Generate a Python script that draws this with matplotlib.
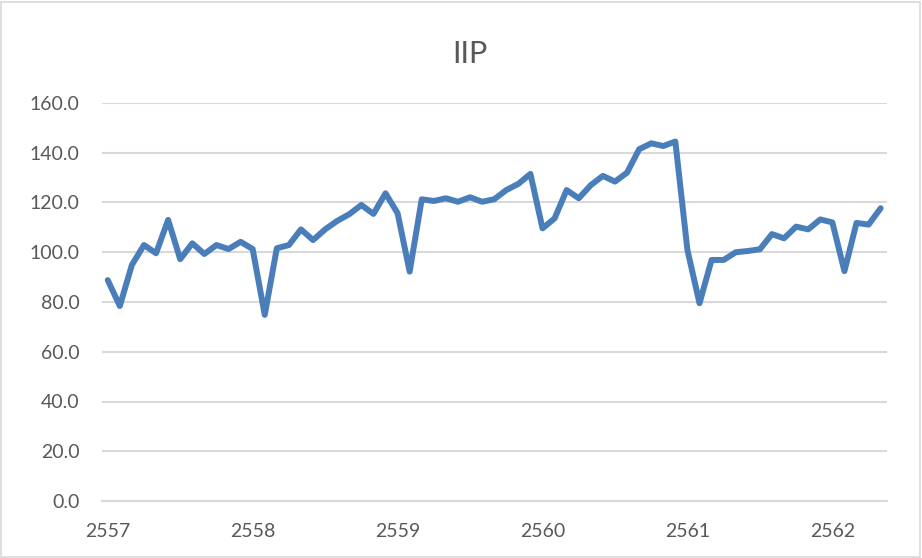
import matplotlib.pyplot as plt
from matplotlib.patches import Rectangle

# monthly IIP values, Jan 2557 .. May 2562
iip = [
    88.8, 78.4, 94.9, 102.9, 99.6, 113.0, 97.2, 103.6, 99.3, 102.9, 101.3, 104.2,
    101.3, 74.8, 101.6, 102.9, 109.2, 104.9, 109.2, 112.6, 115.3, 119.0, 115.4, 123.7,
    115.7, 92.2, 121.3, 120.6, 121.7, 120.3, 122.1, 120.3, 121.3, 125.0, 127.5, 131.5,
    109.6, 113.6, 125.0, 121.7, 127.0, 130.7, 128.4, 132.0, 141.4, 143.8, 142.7, 144.5,
    100.9, 79.5, 96.9, 96.9, 100.0, 100.5, 101.2, 107.3, 105.6, 110.3, 109.2, 113.2,
    112.0, 92.4, 111.8, 111.1, 117.7,
]
years = ["2557", "2558", "2559", "2560", "2561", "2562"]
y_ticks = [0, 20, 40, 60, 80, 100, 120, 140, 160]

plt.rcParams["font.family"] = ["Lato", "DejaVu Sans"]

W, H = 922, 558
fig = plt.figure(figsize=(W / 100, H / 100), dpi=100)

# plot area in pixels: x 101.7..886.7, y 103..501
ax = fig.add_axes([101.7 / W, 1 - 501 / H, (886.7 - 101.7) / W, (501 - 103) / H])

x = list(range(len(iip)))
ax.plot(x, iip, color="#4A7EBB", linewidth=4.3,
        solid_joinstyle="round", solid_capstyle="round", zorder=3)

ax.set_xlim(-0.5, len(iip) - 0.5)
ax.set_ylim(0, 160)

ax.set_yticks(y_ticks)
ax.set_yticklabels([f"{v:.1f}" for v in y_ticks])
ax.set_xticks(range(0, 12 * len(years), 12))
ax.set_xticklabels(years)

ax.grid(axis="y", color="#D9D9D9", linewidth=1.5, zorder=0)
for side in ["top", "right", "left"]:
    ax.spines[side].set_visible(False)
ax.spines["bottom"].set_color("#D9D9D9")
ax.spines["bottom"].set_linewidth(1.5)

ax.tick_params(axis="both", length=0, labelsize=14, labelcolor="#595959")
ax.tick_params(axis="y", pad=16)
ax.tick_params(axis="x", pad=16)

fig.text(470 / W, 1 - 62.7 / H, "IIP", ha="center", va="baseline",
         fontsize=22, color="#595959")

# light chart-area border
fig.patches.append(Rectangle((1 / W, 1 / H), 1 - 3 / W, 1 - 3 / H,
                             transform=fig.transFigure, fill=False,
                             edgecolor="#D9D9D9", linewidth=1.2))

plt.savefig("out.png", dpi=100)
plt.close()
